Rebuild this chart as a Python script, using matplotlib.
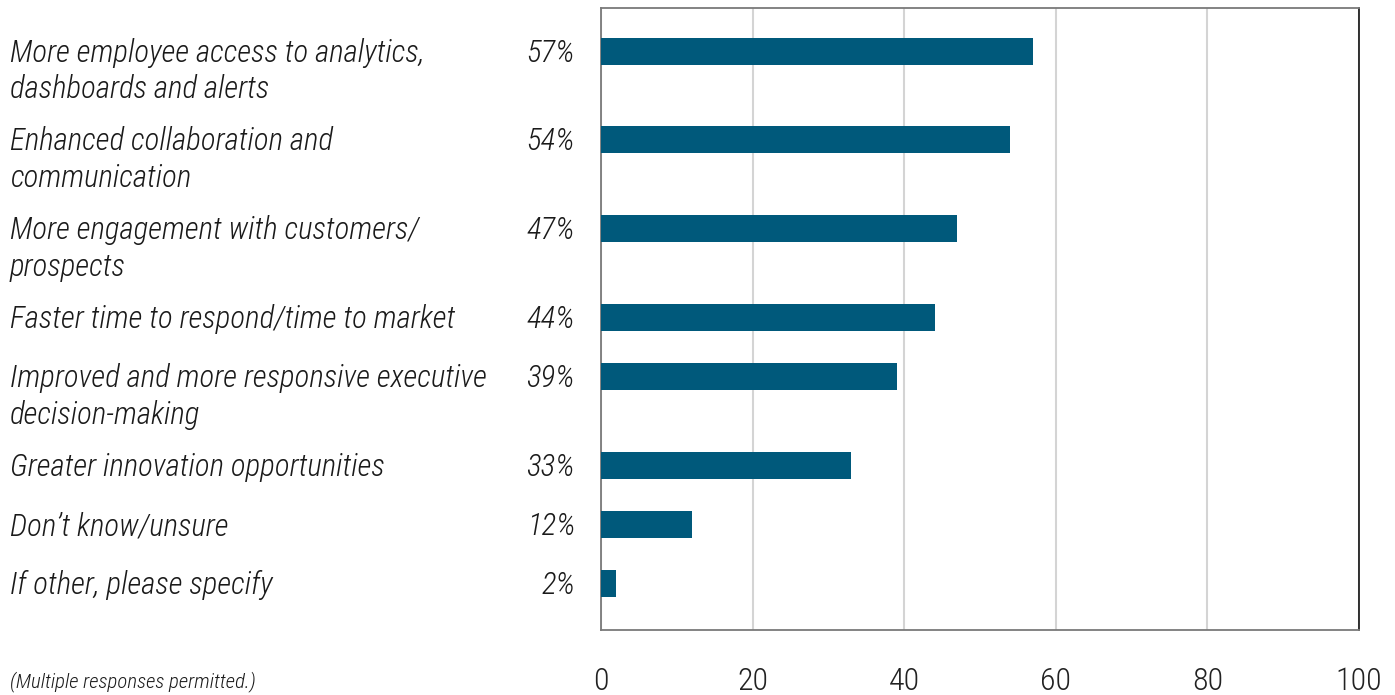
import matplotlib
matplotlib.use("Agg")
import matplotlib.pyplot as plt
from matplotlib import font_manager, transforms

categories = [
    "More employee access to analytics,\ndashboards and alerts",
    "Enhanced collaboration and\ncommunication",
    "More engagement with customers/\nprospects",
    "Faster time to respond/time to market",
    "Improved and more responsive executive\ndecision-making",
    "Greater innovation opportunities",
    "Don\u2019t know/unsure",
    "If other, please specify",
]
values = [57, 54, 47, 44, 39, 33, 12, 2]
xticks = [0, 20, 40, 60, 80, 100]
footnote = "(Multiple responses permitted.)"

names = {f.name for f in font_manager.fontManager.ttflist}
fam = "Roboto"
for cand in ["Roboto Condensed", "Liberation Sans Narrow", "Open Sans Condensed", "DejaVu Sans Condensed"]:
    if cand in names:
        fam = cand
        break
plt.rcParams["font.family"] = [fam, "DejaVu Sans"]
narrow = fam != "Roboto"
fs = 22.2 if narrow else 18.5

BAR = "#00597B"
W, H = 1395, 695
fig = plt.figure(figsize=(W / 100, H / 100), dpi=100)
ax = fig.add_axes([601 / W, (H - 630) / H, (1359 - 601) / W, (630 - 8) / H])

unit = 29.6
pos = []
y = 43 / unit
for lab in categories:
    pos.append(y)
    y += lab.count("\n") + 2
ax.set_ylim(622 / unit, 0)
ax.set_xlim(0, 100)

ax.barh(pos, values, height=27 / unit, color=BAR, zorder=3)

ax.set_xticks(xticks)
ax.set_xticklabels([str(t) for t in xticks], fontsize=23, color="#222222", fontweight="light")
ax.tick_params(axis="x", length=0, pad=27)
ax.set_yticks([])
ax.grid(axis="x", color="#d4d4d4", linewidth=1.5, zorder=0)
ax.set_axisbelow(True)

for s in ["top", "left", "bottom"]:
    ax.spines[s].set_color("#7a7a7a")
    ax.spines[s].set_linewidth(1.3)
ax.spines["right"].set_color("#111111")
ax.spines["right"].set_linewidth(1.2)

bt = transforms.blended_transform_factory(fig.transFigure, ax.transData)
line_step = 37 / unit
base_off = 10.5 / unit
for p, lab, v in zip(pos, categories, values):
    for k, ln in enumerate(lab.split("\n")):
        fig.text(10 / W, p + k * line_step + base_off, ln, transform=bt, fontweight="light",
                 fontsize=fs, style="italic", ha="left", va="baseline", color="#1a1a1a")
    fig.text(575 / W, p + base_off, f"{v}%", transform=bt, fontweight="light",
             fontsize=fs, style="italic", ha="right", va="baseline", color="#1a1a1a")

fig.text(10 / W, (H - 682) / H, footnote, fontsize=15, style="italic", fontweight="light",
         ha="left", va="center", color="#1a1a1a")

fig.savefig("out.png", dpi=100, facecolor="white")
